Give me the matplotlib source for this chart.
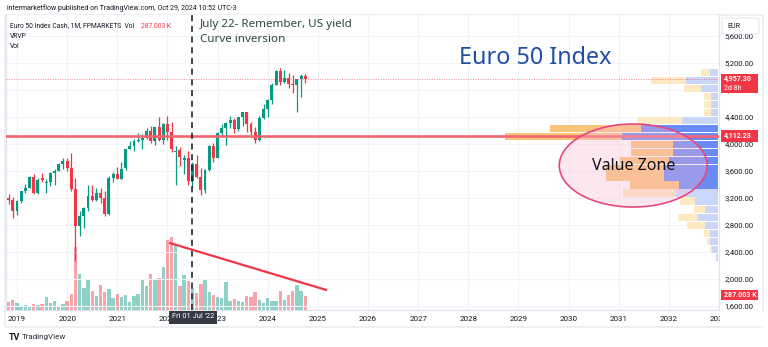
import numpy as np
import matplotlib
matplotlib.use("Agg")
import matplotlib.pyplot as plt
from matplotlib.patches import Ellipse, Rectangle, FancyBboxPatch

plt.rcParams['font.family'] = ['Roboto', 'DejaVu Sans']

# ---- monthly bars, first bar = Nov 2018 ----
first_bar = 2018 + 10 / 12
opens = [3197, 3172, 3001, 3160, 3300, 3355, 3515, 3280, 3495, 3425, 3430, 3570,
         3605, 3705, 3750, 3640, 3330, 2790, 2930, 3050, 3235, 3175, 3275, 3195,
         2960, 3495, 3555, 3485, 3640, 3920, 3975, 4040, 4065, 4090, 4195, 4050,
         4250, 4065, 4300, 4175, 3880, 3905, 3770, 3790, 3450, 3710, 3515, 3320,
         3620, 3965, 3795, 4165, 4240, 4315, 4360, 4220, 4400, 4470, 4300, 4175,
         4060, 4385, 4520, 4650, 4880, 5085, 4920, 4985, 4895, 4870, 4960, 5000]
highs = [3260, 3215, 3175, 3308, 3410, 3530, 3550, 3490, 3570, 3480, 3590, 3630,
         3720, 3790, 3800, 3867, 3500, 3010, 3070, 3400, 3400, 3350, 3350, 3310,
         3530, 3590, 3660, 3730, 3930, 4040, 4070, 4160, 4150, 4230, 4260, 4250,
         4400, 4310, 4415, 4330, 3970, 3960, 3840, 3890, 3730, 3830, 3650, 3630,
         3980, 4020, 4180, 4300, 4330, 4410, 4380, 4400, 4480, 4480, 4320, 4250,
         4410, 4600, 4660, 4900, 5100, 5122, 5100, 5050, 5020, 4970, 5040, 5040]
lows = [3115, 2909, 2955, 3130, 3280, 3350, 3260, 3255, 3440, 3280, 3380, 3400,
        3600, 3630, 3600, 3300, 2260, 2640, 2760, 3010, 3150, 3150, 3130, 2930,
        2950, 3430, 3480, 3480, 3620, 3920, 3890, 4030, 3920, 4080, 4020, 3990,
        4040, 4000, 4060, 3880, 3390, 3680, 3560, 3390, 3350, 3490, 3250, 3280,
        3600, 3740, 3790, 4120, 3980, 4240, 4170, 4200, 4270, 4180, 4130, 4015,
        4040, 4370, 4400, 4600, 4870, 4880, 4900, 4830, 4750, 4474, 4700, 4900]
closes = [3173, 3001, 3159, 3298, 3352, 3514, 3280, 3474, 3467, 3432, 3569, 3604,
          3703, 3745, 3641, 3329, 2787, 2928, 3050, 3234, 3174, 3273, 3194, 2958,
          3493, 3553, 3481, 3636, 3919, 3975, 4039, 4064, 4089, 4196, 4048, 4250,
          4064, 4298, 4175, 3924, 3903, 3803, 3789, 3455, 3708, 3517, 3318, 3618,
          3965, 3794, 4163, 4238, 4315, 4359, 4218, 4399, 4471, 4297, 4175, 4061,
          4382, 4521, 4648, 4878, 5083, 4921, 4984, 4894, 4873, 4958, 5000, 4957.30]
volume_k = [167, 195, 134, 80, 94, 54, 114, 94, 126, 261, 134, 175,
            86, 120, 175, 321, 1258, 729, 436, 596, 387, 275, 502, 355,
            421, 241, 321, 267, 301, 155, 281, 321, 616, 482, 722, 602,
            642, 869, 1405, 1471, 1325, 476, 702, 576, 448, 335, 522, 622,
            355, 307, 255, 247, 556, 187, 221, 187, 155, 281, 267, 361,
            195, 134, 247, 175, 175, 381, 195, 307, 387, 508, 381, 287.003]

# ---- visible range volume profile (24 rows, listed top row first) ----
vp_up = [8.3, 31.7, 17.3, 7.3, 7.3, 7.3, 36.3, 76.7, 95.7, 44.7, 44.7, 49,
         53.3, 53.3, 39, 41.7, 23, 13, 19.7, 13.3, 8, 8, 6.3, 2.3]
vp_down = [9, 34.6, 16.7, 6.7, 6.7, 6.7, 44.4, 89.6, 116, 41.6, 41.6, 48,
           57.4, 57.4, 48.3, 52.3, 15.3, 11, 20, 17.4, 6, 2.7, 2, 0]
va_high, va_low = 4281, 3333

year_ticks = list(range(2019, 2034))
price_ticks = list(range(1600, 5601, 400))

level_price = 4112.23
last_price = 4957.30
last_volume_text = "287.003 K"
marker_date = 2022.5            # Fri 01 Jul '22
trend_x = [2022.05, 2025.17]
trend_y = [2533, 1837]
zone_center = (2031.29, 3681)
zone_size = (2.95, 1230)

UP = '#089981'
DOWN = '#f23645'
GRID = '#f0f3fa'
TXT = '#131722'

W, H = 768, 347
def fx(px):
    return px / W
def fy(py):
    return 1 - py / H

fig = plt.figure(figsize=(W / 100, H / 100), dpi=100)
fig.patch.set_facecolor('white')

# outer chart frame
fig.add_artist(FancyBboxPatch((fx(5), fy(327)), fx(763) - fx(5), fy(15) - fy(327),
                              boxstyle='round,pad=0,rounding_size=0.004',
                              transform=fig.transFigure, fc='white', ec='#e0e3eb',
                              lw=0.8, zorder=-5))

rect = [fx(6), fy(310), fx(719) - fx(6), fy(15) - fy(310)]
vax = fig.add_axes(rect, zorder=1)
ax = fig.add_axes(rect, zorder=2)
ax.patch.set_visible(False)

x0, x1 = 2018.781, 2032.984
ax.set_xlim(x0, x1)
ax.set_ylim(1541, 5911)
vax.set_xlim(x0, x1)

t = first_bar + np.arange(len(opens)) / 12
o = np.array(opens); h = np.array(highs); l = np.array(lows); c = np.array(closes)
up = c >= o
cols = np.where(up, UP, DOWN)

# grid
vax.set_yticks([])
vax.set_xticks(year_ticks)
vax.tick_params(axis='x', length=0, labelbottom=False)
for p in price_ticks:
    ax.axhline(p, color=GRID, lw=0.8, zorder=0)
for y in year_ticks:
    vax.axvline(y, color=GRID, lw=0.8, zorder=0)

# volume pane
vmax = max(volume_k)
vax.bar(t, volume_k, width=0.8 / 12, color=cols, alpha=0.45, lw=0, zorder=2)
vax.set_ylim(0, vmax / 0.249)
for s in vax.spines.values():
    s.set_visible(False)

# candles
ax.vlines(t, l, h, colors=cols, lw=0.9, zorder=3)
body = np.maximum(np.abs(c - o), 10)
ax.bar(t, body, bottom=np.minimum(o, c), width=0.7 / 12, color=cols, lw=0, zorder=3)

# volume profile
edges = np.linspace(l.min(), h.max(), len(vp_up) + 1)
row_h = edges[1] - edges[0]
centers = (edges[:-1] + edges[1:]) / 2
up_rows = np.array(vp_up[::-1]); dn_rows = np.array(vp_down[::-1])
scale = 0.30 * (x1 - x0) / (up_rows + dn_rows).max()
for yc, uv, dv in zip(centers, up_rows, dn_rows):
    in_va = va_low <= yc <= va_high
    cu = '#6a8bf5' if in_va else '#cad7fb'
    cd = '#f9c57b' if in_va else '#fdeac3'
    ax.barh(yc, uv * scale, left=x1 - uv * scale, height=row_h * 0.9,
            color=cu, lw=0, zorder=4)
    if dv > 0:
        ax.barh(yc, dv * scale, left=x1 - (uv + dv) * scale, height=row_h * 0.9,
                color=cd, lw=0, zorder=4)

# horizontal level and last-price line
ax.axhline(level_price, color='#f4656f', lw=1.9, zorder=5)
ax.axhline(last_price, color=DOWN, lw=0.7, ls=(0, (1, 1.5)), alpha=0.6, zorder=5)

# vertical marker and trend line
ax.axvline(marker_date, color=TXT, lw=1.1, ls=(0, (4, 3)), zorder=6)
ax.plot(trend_x, trend_y, color=DOWN, lw=1.6, solid_capstyle='round', zorder=6)

# value zone ellipse
ax.add_patch(Ellipse(zone_center, zone_size[0], zone_size[1],
                     fc=(0.98, 0.72, 0.82, 0.33), ec='#e5487c', lw=1.2, zorder=7))
ax.text(zone_center[0], zone_center[1], 'Value Zone', ha='center', va='center',
        fontsize=11.5, color='#111111', family='Noto Sans', zorder=8)

# axes styling
ax.set_xticks(year_ticks)
ax.set_xticklabels([str(y) for y in year_ticks])
ax.set_yticks(price_ticks)
ax.set_yticklabels([f'{p:,.2f}' for p in price_ticks])
ax.yaxis.tick_right()
ax.tick_params(axis='y', length=0, pad=4, labelsize=5.5, labelcolor=TXT)
ax.tick_params(axis='x', length=0, pad=4, labelsize=5.8, labelcolor=TXT)
for side, s in ax.spines.items():
    s.set_color('#e0e3eb'); s.set_linewidth(0.8)
ax.spines['top'].set_visible(False)

# header and legend
fig.text(fx(7), fy(8), 'intermarketflow published on TradingView.com, Oct 29, 2024 10:52 UTC-3',
         fontsize=5.0, color='#131722', va='center')
fig.text(fx(10), fy(26), 'Euro 50 Index Cash, 1M, FPMARKETS  Vol', fontsize=4.9,
         color='#131722', va='center')
fig.text(fx(141), fy(26), last_volume_text, fontsize=4.9, color=DOWN, va='center')
fig.text(fx(10), fy(36), 'VRVP', fontsize=4.9, color='#131722', va='center')
fig.text(fx(10), fy(47), 'Vol', fontsize=4.9, color='#131722', va='center')

fig.text(fx(200), fy(25), 'July 22- Remember, US yield', fontsize=8.4,
         color='#2b4a3d', va='center', family='Noto Sans')
fig.text(fx(200), fy(40), 'Curve inversion', fontsize=8.4,
         color='#2b4a3d', va='center', family='Noto Sans')
fig.text(fx(535), fy(58), 'Euro 50 Index', fontsize=16.8, color='#1f4ea3',
         ha='center', va='center', family='Noto Sans')

# price scale boxes
def price_box(y_top, y_bot, lines):
    fig.add_artist(Rectangle((fx(721), fy(y_bot)), fx(758) - fx(721), fy(y_top) - fy(y_bot),
                             transform=fig.transFigure, fc=DOWN, ec='none', zorder=10))
    n = len(lines)
    for k, s in enumerate(lines):
        yy = y_top + (y_bot - y_top) * (k + 0.5) / n
        fig.text(fx(724), fy(yy), s, fontsize=5.0, color='white', va='center',
                 fontweight='bold' if k == 0 else 'normal', zorder=11)

price_box(74, 93, [f'{last_price:,.2f}', '2d 8h'])
price_box(130, 142, [f'{level_price:,.2f}'])
price_box(290, 300, [last_volume_text])

fig.add_artist(FancyBboxPatch((fx(722), fy(34)), fx(759) - fx(722), fy(18) - fy(34),
                              boxstyle='round,pad=0,rounding_size=0.003',
                              transform=fig.transFigure, fc='white', ec='#e0e3eb',
                              lw=0.7, zorder=10))
fig.text(fx(727), fy(26), 'EUR', fontsize=5.0, color=TXT, va='center', zorder=11)

# hide the clipped year label under the price scale
fig.add_artist(Rectangle((fx(720), fy(326)), fx(766) - fx(720), fy(311) - fy(326),
                         transform=fig.transFigure, fc='white', ec='none', zorder=9))

# crosshair date label
fig.text(fx(192.7), fy(317), "Fri 01 Jul '22", fontsize=5.4, color='white',
         ha='center', va='center', zorder=11,
         bbox=dict(boxstyle='square,pad=0.4', fc='#363a45', ec='none'))

# footer
fig.text(fx(9), fy(337), 'TV', fontsize=6.5, color=TXT, va='center', fontweight='bold')
fig.text(fx(22), fy(337), 'TradingView', fontsize=5.8, color='#2a2e39', va='center')

fig.savefig('out.png', dpi=100)
